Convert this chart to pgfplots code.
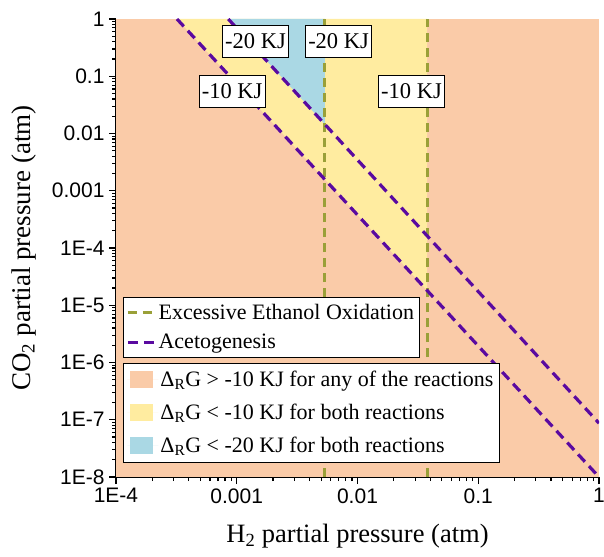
\documentclass[border=0pt]{standalone}
\usepackage{pgfplots}
\pgfplotsset{compat=1.18}
\usepackage{fontspec}
\setmainfont{Liberation Serif}
\setsansfont{Liberation Sans}
\definecolor{bgor}{RGB}{250,203,168}
\definecolor{yel}{RGB}{255,236,160}
\definecolor{blu}{RGB}{170,216,228}
\definecolor{olv}{RGB}{154,160,56}
\definecolor{pur}{RGB}{90,10,160}
\begin{document}
\begin{tikzpicture}
\begin{axis}[
  xmode=log, ymode=log,
  scale only axis, width=483pt, height=458pt,
  xmin=1e-4, xmax=1, ymin=1e-8, ymax=1,
  axis x line*=bottom, axis y line*=left,
  axis line style={-, line width=1.2pt, black},
  tick align=outside,
  major tick length=7pt, minor tick length=4pt,
  every tick/.style={black, line width=1.2pt},
  xtick={1e-4,1e-3,1e-2,1e-1,1},
  xticklabels={1E-4,0.001,0.01,0.1,1},
  minor xtick={2e-4,3e-4,4e-4,5e-4,6e-4,7e-4,8e-4,9e-4,
    2e-3,3e-3,4e-3,5e-3,6e-3,7e-3,8e-3,9e-3,
    2e-2,3e-2,4e-2,5e-2,6e-2,7e-2,8e-2,9e-2,
    0.2,0.3,0.4,0.5,0.6,0.7,0.8,0.9},
  ytick={1e-8,1e-7,1e-6,1e-5,1e-4,1e-3,1e-2,1e-1,1},
  yticklabels={1E-8,1E-7,1E-6,1E-5,1E-4,0.001,0.01,0.1,1},
  minor ytick={2e-8,3e-8,4e-8,5e-8,6e-8,7e-8,8e-8,9e-8,
    2e-7,3e-7,4e-7,5e-7,6e-7,7e-7,8e-7,9e-7,
    2e-6,3e-6,4e-6,5e-6,6e-6,7e-6,8e-6,9e-6,
    2e-5,3e-5,4e-5,5e-5,6e-5,7e-5,8e-5,9e-5,
    2e-4,3e-4,4e-4,5e-4,6e-4,7e-4,8e-4,9e-4,
    2e-3,3e-3,4e-3,5e-3,6e-3,7e-3,8e-3,9e-3,
    2e-2,3e-2,4e-2,5e-2,6e-2,7e-2,8e-2,9e-2,
    0.2,0.3,0.4,0.5,0.6,0.7,0.8,0.9},
  xticklabel style={font=\sffamily\fontsize{21}{23}\selectfont, yshift=-1pt},
  yticklabel style={font=\sffamily\fontsize{21}{23}\selectfont, xshift=-1pt},
  xlabel={H\textsubscript{2} partial pressure (atm)},
  ylabel={CO\textsubscript{2} partial pressure (atm)},
  xlabel style={font=\fontsize{26.5}{28}\selectfont, at={(axis description cs:0.5,-0.144)}, anchor=base},
  ylabel style={font=\fontsize{27}{28}\selectfont, at={(axis description cs:-0.19,0.5)}, anchor=center},
  legend style={at={(axis description cs:0.0145,0.393)}, anchor=north west,
    draw=black, line width=0.8pt, fill=white,
    font=\fontsize{22}{24}\selectfont, inner xsep=3pt, inner ysep=5pt,
    row sep=9pt},
  legend cell align=left,
  legend image code/.code={\draw[#1] (0pt,0pt) -- (27pt,0pt);},
]
% background regions
\addplot[fill=bgor, draw=none, forget plot] coordinates {(1e-4,1e-8) (1,1e-8) (1,1) (1e-4,1)} -- cycle;
\addplot[fill=yel, draw=none, forget plot] coordinates {(3.20e-4,1) (0.0377,1) (0.0377,1.82e-5)} -- cycle;
\addplot[fill=blu, draw=none, forget plot] coordinates {(8.51e-4,1) (0.00538,1) (0.00538,0.0144)} -- cycle;
% ethanol oxidation lines
\addplot[olv, line width=3pt, dash pattern=on 9pt off 6pt] coordinates {(0.00538,1e-8) (0.00538,1)};
\addlegendentry{Excessive Ethanol Oxidation}
\addplot[olv, line width=3pt, dash pattern=on 9pt off 6pt, forget plot] coordinates {(0.0377,1e-8) (0.0377,1)};
% acetogenesis lines
\addplot[pur, line width=3.2pt, dash pattern=on 10pt off 6pt] coordinates {(3.20e-4,1) (1,1.0e-8)};
\addlegendentry{Acetogenesis}
\addplot[pur, line width=3.2pt, dash pattern=on 10pt off 6pt, forget plot] coordinates {(8.51e-4,1) (1,8.71e-8)};
% labels
\node[draw=black, line width=0.6pt, fill=white, font=\fontsize{22.5}{24}\selectfont, inner xsep=2.5pt, inner ysep=0pt, minimum height=32pt] at (axis cs:1.43e-3,0.413) {-20 KJ};
\node[draw=black, line width=0.6pt, fill=white, font=\fontsize{22.5}{24}\selectfont, inner xsep=2.5pt, inner ysep=0pt, minimum height=32pt] at (axis cs:6.97e-3,0.413) {-20 KJ};
\node[draw=black, line width=0.6pt, fill=white, font=\fontsize{22.5}{24}\selectfont, inner xsep=2.5pt, inner ysep=0pt, minimum height=32pt] at (axis cs:9.15e-4,0.0552) {-10 KJ};
\node[draw=black, line width=0.6pt, fill=white, font=\fontsize{22.5}{24}\selectfont, inner xsep=2.5pt, inner ysep=0pt, minimum height=32pt] at (axis cs:0.028,0.0552) {-10 KJ};
\end{axis}
\begin{axis}[
  xmode=log, ymode=log,
  scale only axis, width=483pt, height=458pt,
  xmin=1e-4, xmax=1, ymin=1e-8, ymax=1,
  hide axis,
  legend style={at={(axis description cs:0.0145,0.249)}, anchor=north west,
    draw=black, line width=0.8pt, fill=white,
    font=\fontsize{22}{24}\selectfont, inner xsep=4pt, inner ysep=6pt,
    row sep=12pt},
  legend cell align=left,
  legend image code/.code={\fill[#1] (3pt,-8pt) rectangle (26pt,8.5pt); \path (0pt,0pt) -- (31pt,0pt);},
]
\addlegendimage{fill=bgor, draw=none}
\addlegendentry{Δ\textsubscript{R}G > -10 KJ for any of the reactions}
\addlegendimage{fill=yel, draw=none}
\addlegendentry{Δ\textsubscript{R}G < -10 KJ for both reactions}
\addlegendimage{fill=blu, draw=none}
\addlegendentry{Δ\textsubscript{R}G < -20 KJ for both reactions}
\end{axis}
\pgfresetboundingbox
\useasboundingbox ([shift={(-116pt,-79pt)}]current axis.south west) rectangle ([shift={(5pt,19pt)}]current axis.north east);
\end{tikzpicture}
\end{document}
